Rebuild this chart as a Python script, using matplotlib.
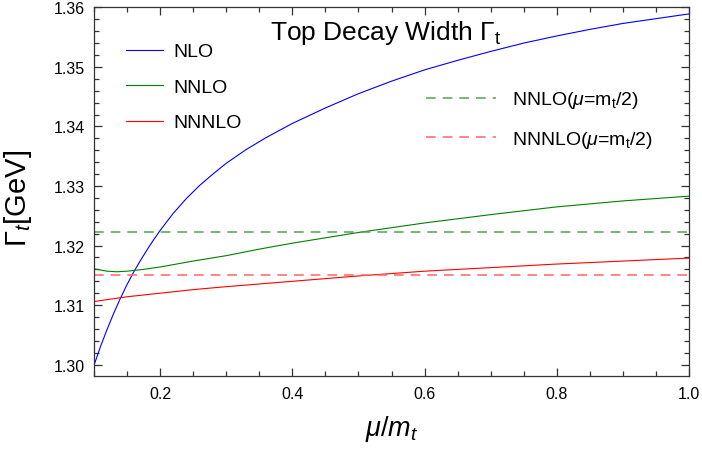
import numpy as np
import matplotlib
matplotlib.use("Agg")
import matplotlib.pyplot as plt
from matplotlib.ticker import MultipleLocator, FormatStrFormatter

plt.rcParams['font.family'] = ['Liberation Sans', 'DejaVu Sans']
plt.rcParams['mathtext.fontset'] = 'custom'
plt.rcParams['mathtext.rm'] = 'Liberation Sans'
plt.rcParams['mathtext.it'] = 'Liberation Sans:italic'
plt.rcParams['mathtext.bf'] = 'Liberation Sans:bold'
plt.rcParams['lines.scale_dashes'] = False

# ---- data ----
mu_nlo = [0.10, 0.11, 0.12, 0.13, 0.14, 0.15, 0.16, 0.17, 0.18, 0.19, 0.20,
          0.22, 0.24, 0.26, 0.28, 0.30, 0.33, 0.36, 0.40, 0.45, 0.50,
          0.55, 0.60, 0.65, 0.70, 0.75, 0.80, 0.85, 0.90, 0.95, 1.00]
gamma_nlo = [1.2998, 1.3030, 1.3059, 1.3086, 1.3111, 1.3134, 1.3155, 1.3174,
             1.3192, 1.3209, 1.3225, 1.3254, 1.3279, 1.3301, 1.3320, 1.3338,
             1.3361, 1.3381, 1.3405, 1.3431, 1.3455, 1.3476, 1.3495, 1.3511,
             1.3526, 1.3540, 1.3552, 1.3563, 1.3573, 1.3581, 1.3589]

mu_nnlo = [0.10, 0.12, 0.135, 0.15, 0.175, 0.20, 0.25, 0.30, 0.35, 0.40,
           0.45, 0.50, 0.55, 0.60, 0.70, 0.80, 0.90, 1.00]
gamma_nnlo = [1.3161, 1.3157, 1.3156, 1.3157, 1.3160, 1.3164, 1.3174, 1.3183,
              1.3194, 1.3204, 1.3213, 1.3222, 1.3230, 1.3238, 1.3252, 1.3265,
              1.3275, 1.3283]

mu_nnnlo = [0.10, 0.15, 0.20, 0.25, 0.30, 0.40, 0.50, 0.60, 0.70, 0.80,
            0.90, 1.00]
gamma_nnnlo = [1.3106, 1.3114, 1.3120, 1.3126, 1.3131, 1.3140, 1.3149, 1.3157,
               1.3163, 1.3169, 1.3174, 1.3179]

nnlo_half = 1.3222
nnnlo_half = 1.3150

x_ticks = [0.2, 0.4, 0.6, 0.8, 1.0]
y_ticks = [1.30, 1.31, 1.32, 1.33, 1.34, 1.35, 1.36]

# ---- figure ----
fig = plt.figure(figsize=(7.02, 4.52), dpi=100)
ax = fig.add_axes([0.1336, 0.1659, 0.8483, 0.8157])

blue = (0.0, 0.0, 1.0)
green = (0.0, 0.5, 0.0)
red = (1.0, 0.0, 0.0)

l1, = ax.plot(mu_nlo, gamma_nlo, color=blue, lw=0.8, label='NLO')
l2, = ax.plot(mu_nnlo, gamma_nnlo, color=green, lw=0.8, label='NNLO')
l3, = ax.plot(mu_nnnlo, gamma_nnnlo, color=red, lw=0.8, label='NNNLO')
d1 = ax.axhline(nnlo_half, color=(0.3, 0.65, 0.3), lw=1.1, dashes=(7, 5),
                label=r'NNLO($\mu$=m$_\mathrm{t}$/2)')
d2 = ax.axhline(nnnlo_half, color=(1.0, 0.4, 0.4), lw=1.1, dashes=(7, 5),
                label=r'NNNLO($\mu$=m$_\mathrm{t}$/2)')

ax.set_xlim(0.1, 1.0)
ax.set_ylim(1.2981, 1.36)
ax.set_xticks(x_ticks)
ax.set_yticks(y_ticks)
ax.xaxis.set_major_formatter(FormatStrFormatter('%.1f'))
ax.yaxis.set_major_formatter(FormatStrFormatter('%.2f'))
ax.xaxis.set_minor_locator(MultipleLocator(0.05))
ax.yaxis.set_minor_locator(MultipleLocator(0.002))
ax.tick_params(which='both', direction='in', top=True, right=True,
               color='#333333', labelsize=11.5, width=0.9)
ax.tick_params(which='major', length=6)
ax.tick_params(which='minor', length=3.5)
ax.tick_params(axis='y', pad=6.4)
ax.tick_params(axis='x', pad=7.5)
for s in ax.spines.values():
    s.set_color('#333333')
    s.set_linewidth(0.9)

ax.set_xlabel(r'$\mu/m_t$', fontsize=19.5, labelpad=8)
ax.set_ylabel(r'$\Gamma_t$[GeV]', fontsize=21, labelpad=8)
ax.yaxis.set_label_coords(-0.1, 0.484)

ax.text(0.4907, 0.934, r'Top Decay Width $\Gamma_\mathrm{t}$', transform=ax.transAxes,
        ha='center', va='center', fontsize=19)

leg1 = ax.legend(handles=[l1, l2, l3], loc='upper left', frameon=False,
                 fontsize=14, handlelength=1.95, handletextpad=0.5,
                 labelspacing=0.92, bbox_to_anchor=(0.024, 0.951))
ax.add_artist(leg1)
ax.legend(handles=[d1, d2], loc='upper left', frameon=False, fontsize=14,
          handlelength=3.6, handletextpad=0.82, labelspacing=0.94,
          bbox_to_anchor=(0.529, 0.825))

fig.savefig('out.png', dpi=100)
